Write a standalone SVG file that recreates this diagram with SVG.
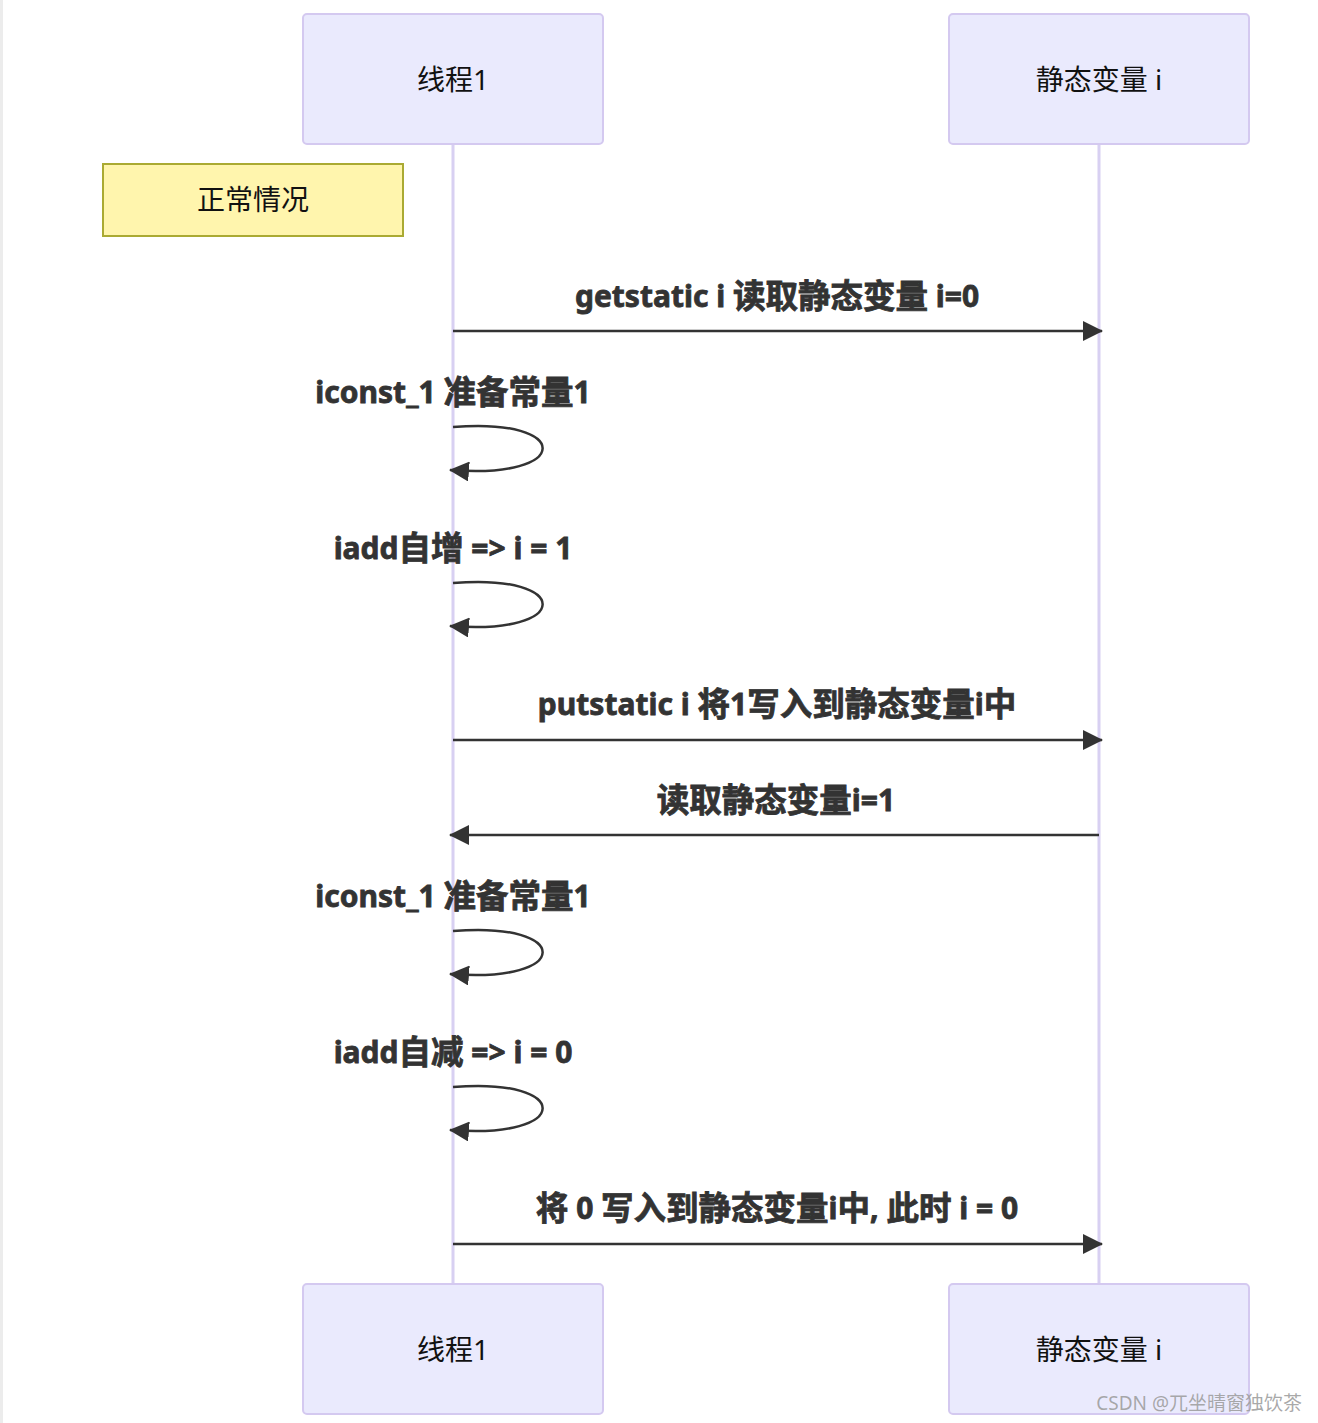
<svg xmlns="http://www.w3.org/2000/svg" width="1318" height="1423" viewBox="0 0 1318 1423">
<style>
.actor{fill:#eaeafd;stroke:#d4c9f0;stroke-width:2}
.atext{font-family:"Noto Sans","Noto Sans CJK SC",sans-serif;font-size:28px;fill:#111;text-anchor:middle;dominant-baseline:central}
.life{stroke:#d8d0f2;stroke-width:3}
.msg{stroke:#333;stroke-width:2.5;fill:none}
.mtext{font-family:"Noto Sans","Noto Sans CJK SC",sans-serif;font-size:30px;font-weight:bold;fill:#333;stroke:#333;stroke-width:0.8;text-anchor:middle;dominant-baseline:central}
.c{font-size:32.5px}
.note{fill:#fff5ad;stroke:#aaaa33;stroke-width:2}
.ntext{font-family:"Noto Sans","Noto Sans CJK SC",sans-serif;font-size:28px;fill:#111;text-anchor:middle;dominant-baseline:central}
</style>
<defs>
<marker id="arrL" viewBox="0 0 20 20" refX="19" refY="10" markerWidth="20" markerHeight="20" markerUnits="userSpaceOnUse" orient="auto">
<path d="M0,0 L20,10 L0,20 Z" fill="#333"/>
</marker>
</defs>
<rect x="0" y="0" width="1318" height="1423" fill="#fff"/>
<rect x="0" y="0" width="3" height="1423" fill="#ececec"/>
<g id="lifelines">
<line class="life" x1="453" y1="144" x2="453" y2="1284"/>
<line class="life" x1="1099" y1="144" x2="1099" y2="1284"/>
</g>
<g id="actor-thread-top"><rect class="actor" x="303" y="14" width="300" height="130" rx="4"/><text class="atext" x="453" y="79">线程1</text></g>
<g id="actor-static-top"><rect class="actor" x="949" y="14" width="300" height="130" rx="4"/><text class="atext" x="1099" y="79">静态变量 i</text></g>
<g id="note"><rect class="note" x="103" y="164" width="300" height="72"/><text class="ntext" x="253" y="199">正常情况</text></g>
<g id="connectors">
<line class="msg" x1="453" y1="331" x2="1102" y2="331" marker-end="url(#arrL)"/>
<path class="msg" d="M453,427 C573,417 573,480 450,470" marker-end="url(#arrL)"/>
<path class="msg" d="M453,583 C573,573 573,636 450,626" marker-end="url(#arrL)"/>
<line class="msg" x1="453" y1="740" x2="1102" y2="740" marker-end="url(#arrL)"/>
<line class="msg" x1="1099" y1="835" x2="450" y2="835" marker-end="url(#arrL)"/>
<path class="msg" d="M453,931 C573,921 573,984 450,974" marker-end="url(#arrL)"/>
<path class="msg" d="M453,1087 C573,1077 573,1140 450,1130" marker-end="url(#arrL)"/>
<line class="msg" x1="453" y1="1244" x2="1102" y2="1244" marker-end="url(#arrL)"/>
</g>
<g id="labels">
<text class="mtext" x="777" y="295">getstatic i <tspan class="c">读取静态变量</tspan> i=0</text>
<text class="mtext" x="453" y="391">iconst_1 <tspan class="c">准备常量</tspan>1</text>
<text class="mtext" x="453" y="547">iadd<tspan class="c">自增</tspan> =&gt; i = 1</text>
<text class="mtext" x="777" y="703">putstatic i <tspan class="c">将</tspan>1<tspan class="c">写入到静态变量</tspan>i<tspan class="c">中</tspan></text>
<text class="mtext" x="776" y="799"><tspan class="c">读取静态变量</tspan>i=1</text>
<text class="mtext" x="453" y="895">iconst_1 <tspan class="c">准备常量</tspan>1</text>
<text class="mtext" x="453" y="1051">iadd<tspan class="c">自减</tspan> =&gt; i = 0</text>
<text class="mtext" x="777" y="1207"><tspan class="c">将</tspan> 0 <tspan class="c">写入到静态变量</tspan>i<tspan class="c">中</tspan>, <tspan class="c">此时</tspan> i = 0</text>
</g>
<g id="actor-thread-bottom"><rect class="actor" x="303" y="1284" width="300" height="130" rx="4"/><text class="atext" x="453" y="1349">线程1</text></g>
<g id="actor-static-bottom"><rect class="actor" x="949" y="1284" width="300" height="130" rx="4"/><text class="atext" x="1099" y="1349">静态变量 i</text></g>
<text x="1302" y="1403" font-family="Noto Sans,Noto Sans CJK SC,sans-serif" font-size="19" fill="#9a9a9a" fill-opacity="0.85" text-anchor="end" dominant-baseline="central">CSDN @兀坐晴窗独饮茶</text>
</svg>
